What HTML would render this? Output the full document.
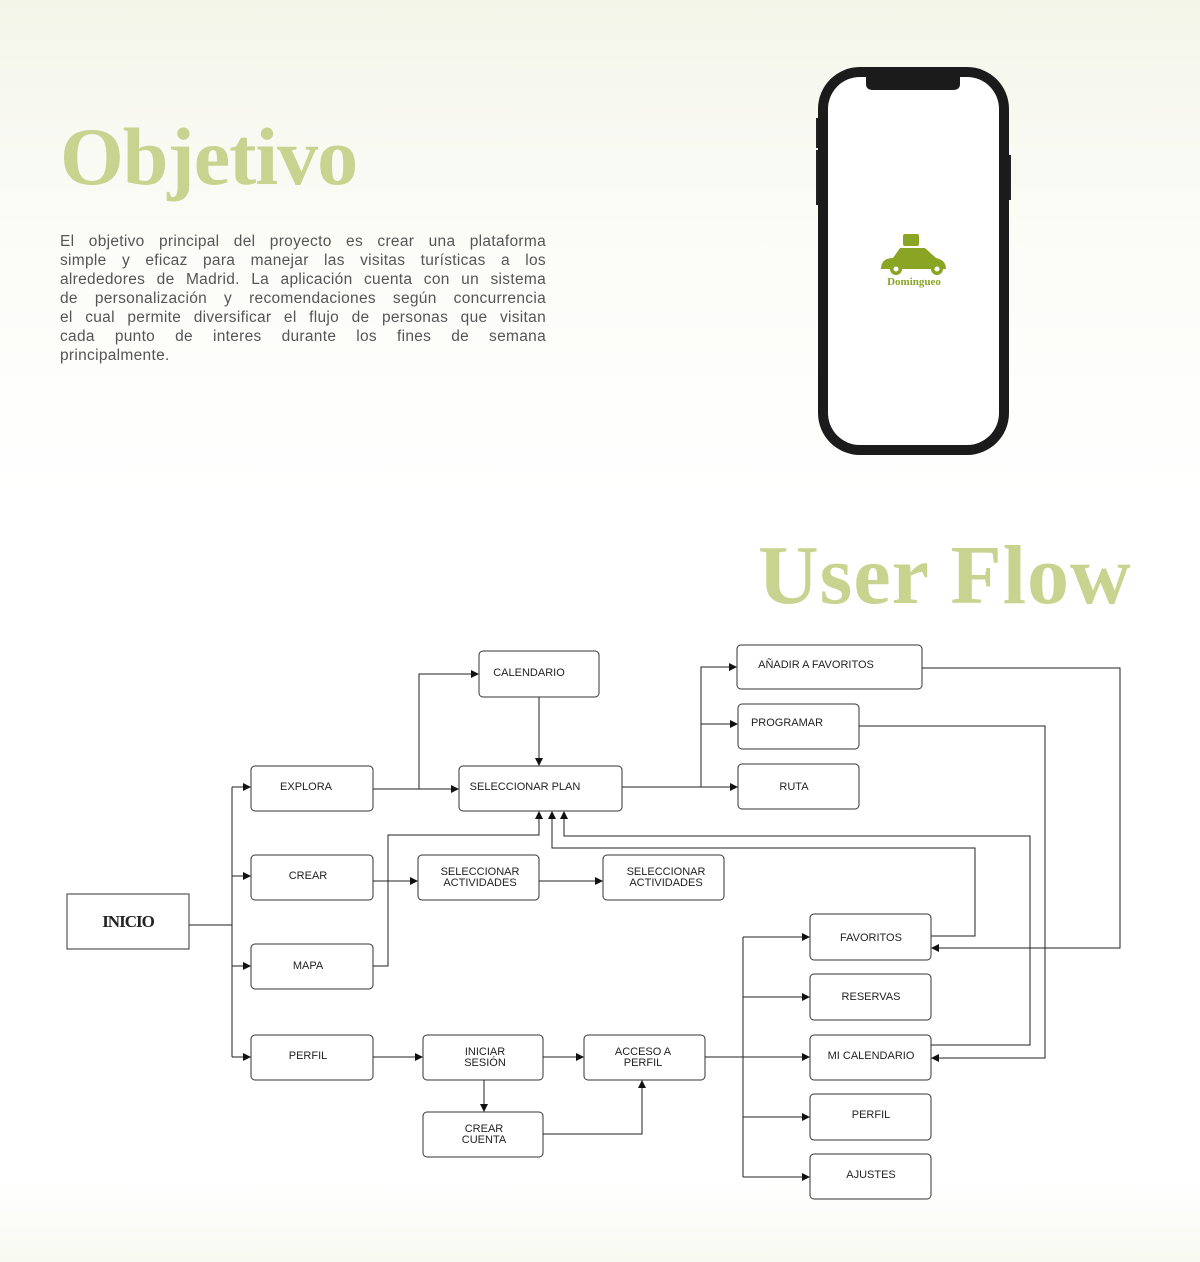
<!DOCTYPE html>
<html><head><meta charset="utf-8"><style>
html,body{margin:0;padding:0}
body{width:1200px;height:1262px;background:linear-gradient(#f3f5e9 0,#fbfbf6 200px,#fff 500px,#fff 1180px,#f8f9f1 1262px);position:relative;overflow:hidden;font-family:"Liberation Sans",sans-serif}
.t{position:absolute;font-family:"Liberation Serif",serif;font-weight:bold;color:#c8d38f;letter-spacing:-1px}
.p{position:absolute;left:60px;top:232px;width:486px;margin:0;font-size:15.5px;line-height:19px;color:#555;letter-spacing:0.3px}
.p span{display:block;text-align:justify;text-align-last:justify;white-space:nowrap;overflow:hidden}
.p span.l{text-align-last:left}
</style></head><body>
<div class="t" style="left:60px;top:112px;font-size:82px;line-height:90px">Objetivo</div>
<div class="t" style="left:758px;top:530px;font-size:84px;line-height:92px;letter-spacing:1px">User Flow</div>
<div class="p">
<span>El objetivo principal del proyecto es crear una plataforma</span>
<span>simple y eficaz para manejar las visitas turísticas a los</span>
<span>alrededores de Madrid. La aplicación cuenta con un sistema</span>
<span>de personalización y recomendaciones según concurrencia</span>
<span>el cual permite diversificar el flujo de personas que visitan</span>
<span>cada punto de interes durante los fines de semana</span>
<span class="l">principalmente.</span>
</div>
<svg width="1200" height="1262" style="position:absolute;left:0;top:0" font-family="Liberation Sans, sans-serif">
<defs><marker id="a" markerWidth="8" markerHeight="8" refX="7" refY="4" orient="auto" markerUnits="userSpaceOnUse"><path d="M0,0L8,4L0,8z" fill="#111"/></marker></defs>
<rect x="816" y="118" width="4" height="30" fill="#222"/><rect x="816" y="150" width="4" height="55" fill="#222"/><rect x="1007" y="155" width="4" height="45" fill="#222"/>
<rect x="818" y="67" width="191" height="388" rx="42" fill="#1b1b1b"/>
<rect x="828" y="77" width="171" height="368" rx="32" fill="#fff"/>
<path d="M866,77 H960 V84 Q960,90 953,90 H873 Q866,90 866,84 Z" fill="#1b1b1b"/>
<g fill="#8aa424"><rect x="903" y="234" width="16" height="12" rx="2"/><path d="M881,269 Q881,258 893,258 L900,248 L925,248 L936,258 Q946,260 946,269 Z"/><circle cx="896" cy="269" r="6"/><circle cx="896" cy="269" r="2.5" fill="#fff"/><circle cx="937" cy="269" r="6"/><circle cx="937" cy="269" r="2.5" fill="#fff"/></g>
<text x="914" y="285" font-family="Liberation Serif,serif" font-size="11" font-weight="bold" fill="#8aa424" text-anchor="middle">Domingueo</text>
<g fill="#fff" stroke="#333" stroke-width="1">
<rect x="67" y="894" width="122" height="55"/>
<rect x="251" y="766" width="122" height="45" rx="4"/>
<rect x="251" y="855" width="122" height="45" rx="4"/>
<rect x="251" y="944" width="122" height="45" rx="4"/>
<rect x="251" y="1035" width="122" height="45" rx="4"/>
<rect x="479" y="651" width="120" height="46" rx="4"/>
<rect x="459" y="766" width="163" height="45" rx="4"/>
<rect x="418" y="855" width="121" height="45" rx="4"/>
<rect x="603" y="855" width="121" height="45" rx="4"/>
<rect x="737" y="645" width="185" height="44" rx="4"/>
<rect x="738" y="704" width="121" height="45" rx="4"/>
<rect x="738" y="764" width="121" height="45" rx="4"/>
<rect x="423" y="1035" width="120" height="45" rx="4"/>
<rect x="423" y="1112" width="120" height="45" rx="4"/>
<rect x="584" y="1035" width="121" height="45" rx="4"/>
<rect x="810" y="914" width="121" height="46" rx="4"/>
<rect x="810" y="974" width="121" height="46" rx="4"/>
<rect x="810" y="1035" width="121" height="45" rx="4"/>
<rect x="810" y="1094" width="121" height="46" rx="4"/>
<rect x="810" y="1154" width="121" height="45" rx="4"/>
</g>
<g font-size="11" fill="#222" text-anchor="middle">
<text x="128" y="927" font-family="Liberation Serif,serif" font-size="17" font-weight="bold" letter-spacing="-1">INICIO</text>
<text x="306" y="790">EXPLORA</text>
<text x="308" y="879">CREAR</text>
<text x="308" y="969">MAPA</text>
<text x="308" y="1059">PERFIL</text>
<text x="529" y="676">CALENDARIO</text>
<text x="525" y="790">SELECCIONAR PLAN</text>
<text x="480" y="875">SELECCIONAR</text><text x="480" y="886">ACTIVIDADES</text>
<text x="666" y="875">SELECCIONAR</text><text x="666" y="886">ACTIVIDADES</text>
<text x="816" y="668">AÑADIR A FAVORITOS</text>
<text x="787" y="726">PROGRAMAR</text>
<text x="794" y="790">RUTA</text>
<text x="485" y="1055">INICIAR</text><text x="485" y="1066">SESIÓN</text>
<text x="484" y="1132">CREAR</text><text x="484" y="1143">CUENTA</text>
<text x="643" y="1055">ACCESO A</text><text x="643" y="1066">PERFIL</text>
<text x="871" y="941">FAVORITOS</text>
<text x="871" y="1000">RESERVAS</text>
<text x="871" y="1059">MI CALENDARIO</text>
<text x="871" y="1118">PERFIL</text>
<text x="871" y="1178">AJUSTES</text>
</g>
<g fill="none" stroke="#222" stroke-width="1">
<path d="M189,925H232M232,787V1057"/>
<path d="M232,787H250" marker-end="url(#a)"/><path d="M232,876H250" marker-end="url(#a)"/><path d="M232,966H250" marker-end="url(#a)"/><path d="M232,1057H250" marker-end="url(#a)"/>
<path d="M373,789H458" marker-end="url(#a)"/>
<path d="M419,789V674H478" marker-end="url(#a)"/>
<path d="M539,697V765" marker-end="url(#a)"/>
<path d="M622,787H737" marker-end="url(#a)"/>
<path d="M701,787V667H736" marker-end="url(#a)"/>
<path d="M701,724H737" marker-end="url(#a)"/>
<path d="M373,881H417" marker-end="url(#a)"/>
<path d="M373,966H388V835H539V812" marker-end="url(#a)"/>
<path d="M539,881H602" marker-end="url(#a)"/>
<path d="M931,936H975V848H552V812" marker-end="url(#a)"/>
<path d="M931,1045H1030V836H564V812" marker-end="url(#a)"/>
<path d="M922,668H1120V948H932" marker-end="url(#a)"/>
<path d="M859,726H1045V1058H932" marker-end="url(#a)"/>
<path d="M373,1057H422" marker-end="url(#a)"/>
<path d="M543,1057H583" marker-end="url(#a)"/>
<path d="M484,1080V1111" marker-end="url(#a)"/>
<path d="M543,1134H642V1081" marker-end="url(#a)"/>
<path d="M705,1057H743M743,937V1177"/>
<path d="M743,937H809" marker-end="url(#a)"/><path d="M743,997H809" marker-end="url(#a)"/><path d="M743,1057H809" marker-end="url(#a)"/><path d="M743,1117H809" marker-end="url(#a)"/><path d="M743,1177H809" marker-end="url(#a)"/>
</g>
</svg>
</body></html>
